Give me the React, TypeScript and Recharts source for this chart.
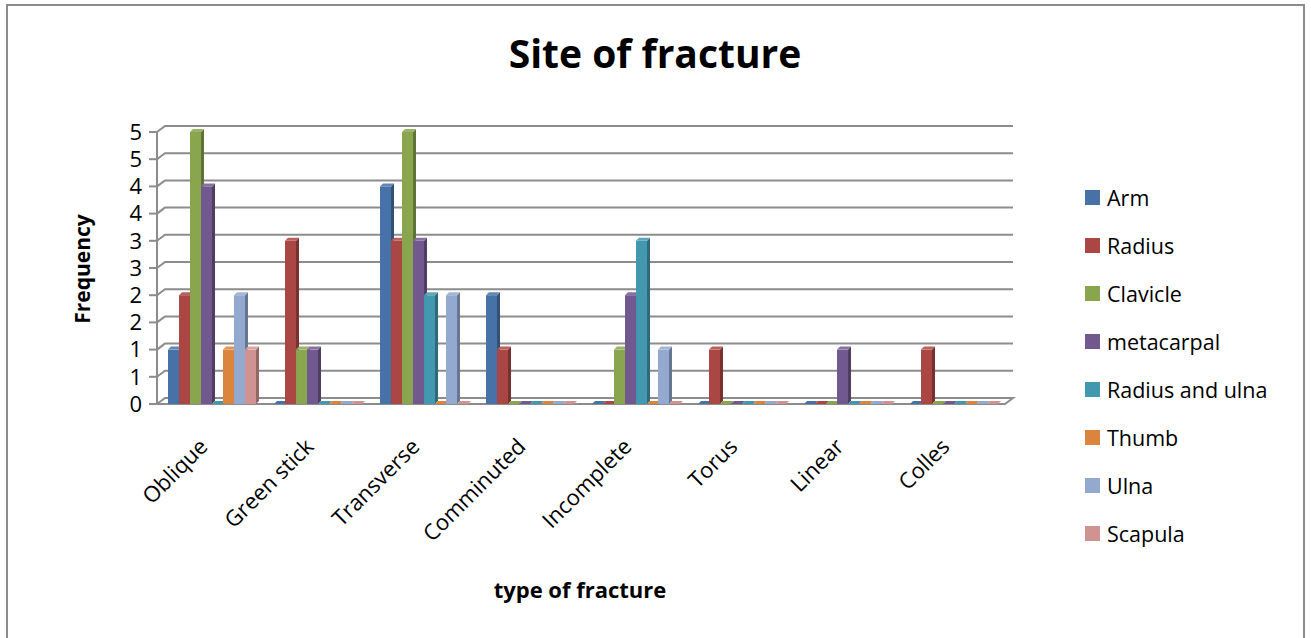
import React from 'react';
import { BarChart, Bar, XAxis, YAxis, CartesianGrid } from 'recharts';

const categories = ['Oblique', 'Green stick', 'Transverse', 'Comminuted', 'Incomplete', 'Torus', 'Linear', 'Colles'];
const arm = [1, 0, 4, 2, 0, 0, 0, 0];
const radius = [2, 3, 3, 1, 0, 1, 0, 1];
const clavicle = [5, 1, 5, 0, 1, 0, 0, 0];
const metacarpal = [4, 1, 3, 0, 2, 0, 1, 0];
const radiusUlna = [0, 0, 2, 0, 3, 0, 0, 0];
const thumb = [1, 0, 0, 0, 0, 0, 0, 0];
const ulna = [2, 0, 2, 0, 1, 0, 0, 0];
const scapula = [1, 0, 0, 0, 0, 0, 0, 0];
const yTicks = [0, 0.5, 1, 1.5, 2, 2.5, 3, 3.5, 4, 4.5, 5];

const seriesNames = ['Arm', 'Radius', 'Clavicle', 'metacarpal', 'Radius and ulna', 'Thumb', 'Ulna', 'Scapula'];
const seriesValues = [arm, radius, clavicle, metacarpal, radiusUlna, thumb, ulna, scapula];
const seriesColors = ['#4672A8', '#AA4643', '#89A54E', '#71588F', '#4198AF', '#DB843D', '#93A9CF', '#D19392'];

const data = categories.map((name, i) => {
  const row: any = { name };
  seriesNames.forEach((s, k) => {
    row[s] = seriesValues[k][i];
  });
  return row;
});

const FONT = '"Open Sans", Lato, sans-serif';

function shade(hex: string, f: number) {
  const n = parseInt(hex.slice(1), 16);
  let r = (n >> 16) & 255, g = (n >> 8) & 255, b = n & 255;
  if (f < 0) {
    r = Math.round(r * (1 + f)); g = Math.round(g * (1 + f)); b = Math.round(b * (1 + f));
  } else {
    r = Math.round(r + (255 - r) * f); g = Math.round(g + (255 - g) * f); b = Math.round(b + (255 - b) * f);
  }
  return `rgb(${r},${g},${b})`;
}

const D = 3;

const Bar3D = (props: any) => {
  const { y, width, height, fill } = props;
  if (props.x == null || y == null) return null;
  const x = props.x + 2;
  const w = width;
  const h = Math.max(0, height || 0);
  const side = shade(fill, -0.3);
  const top = shade(fill, 0.15);
  return (
    <g>
      {h > 0 && <rect x={x} y={y} width={w} height={h} fill={fill} />}
      {h > 0 && (
        <polygon
          points={`${x + w},${y} ${x + w + D},${y - D} ${x + w + D},${y + h - D} ${x + w},${y + h}`}
          fill={side}
        />
      )}
      <polygon
        points={`${x},${y} ${x + D},${y - D} ${x + w + D},${y - D} ${x + w},${y}`}
        fill={h > 0 ? top : fill}
      />
    </g>
  );
};

const GX = 8;
const GY = 6;

const gridLine = (p: any) => {
  const { x1, y1, x2, index } = p;
  if (y1 > 400) {
    return (
      <path
        key={`g${index}`}
        d={`M${x1},${y1} L${x1 + GX},${y1 - GY} L${x2 + GX},${y1 - GY} L${x2},${y1} Z`}
        fill="none"
        stroke="#8c8c8c"
        strokeWidth={2}
      />
    );
  }
  return (
    <path
      key={`g${index}`}
      d={`M${x1},${y1} L${x1 + GX},${y1 - GY} L${x2 + GX},${y1 - GY}`}
      fill="none"
      stroke="#8c8c8c"
      strokeWidth={2}
    />
  );
};

const XTick = (props: any) => {
  const { x, y, payload } = props;
  const ax = x - 1;
  const ay = y + 36;
  return (
    <text
      x={ax}
      y={ay}
      textAnchor="end"
      fontSize={22}
      fontFamily={FONT}
      fill="#000"
      transform={`rotate(-45, ${ax}, ${ay})`}
    >
      {payload.value}
    </text>
  );
};

export default function App() {
  return (
    <div style={{ position: 'absolute', left: 0, top: 0, width: 1311, height: 638, background: '#fff' }}>
      <BarChart
        width={1311}
        height={638}
        data={data}
        margin={{ top: 132, right: 306, bottom: 174, left: 97 }}
        barCategoryGap="8.5%"
        barGap={0}
      >
        <CartesianGrid horizontal={gridLine as any} vertical={false} />
        <XAxis
          dataKey="name"
          interval={0}
          tickLine={false}
          axisLine={false}
          height={60}
          tick={<XTick />}
        />
        <YAxis
          width={60}
          domain={[0, 5]}
          ticks={yTicks}
          interval={0}
          tickFormatter={(v: number) => String(Math.round(v))}
          axisLine={{ stroke: '#8c8c8c', strokeWidth: 2 }}
          tickLine={{ stroke: '#8c8c8c', strokeWidth: 2 }}
          tickSize={8}
          tickMargin={7}
          tick={{ fill: '#000', fontSize: 22, fontFamily: FONT }}
        />
        {seriesNames.map((s, i) => (
          <Bar key={s} dataKey={s} fill={seriesColors[i]} isAnimationActive={false} shape={<Bar3D />} />
        ))}
      </BarChart>
      <div
        style={{
          position: 'absolute',
          left: 1085,
          top: 173,
          fontFamily: FONT,
          fontSize: 21.5,
          color: '#000',
        }}
      >
        {seriesNames.map((s, i) => (
          <div key={s} style={{ display: 'flex', alignItems: 'center', height: 48.1, whiteSpace: 'nowrap' }}>
            <div style={{ width: 15, height: 15, background: seriesColors[i], marginRight: 7, flexShrink: 0 }} />
            <span>{s}</span>
          </div>
        ))}
      </div>
      <svg
        width={1311}
        height={638}
        style={{ position: 'absolute', left: 0, top: 0, pointerEvents: 'none' }}
      >
        <rect x={7} y={5} width={1297} height={700} fill="none" stroke="#8c8c8c" strokeWidth={2} />
        <text x={655} y={68} textAnchor="middle" fontSize={39} fontWeight="bold" fontFamily={FONT} fill="#000">
          Site of fracture
        </text>
        <text x={580} y={598} textAnchor="middle" fontSize={22} fontWeight="bold" fontFamily={FONT} fill="#000">
          type of fracture
        </text>
        <text
          x={90}
          y={269}
          textAnchor="middle"
          fontSize={21}
          fontWeight="bold"
          fontFamily={FONT}
          fill="#000"
          transform="rotate(-90, 90, 269)"
        >
          Frequency
        </text>
      </svg>
    </div>
  );
}
